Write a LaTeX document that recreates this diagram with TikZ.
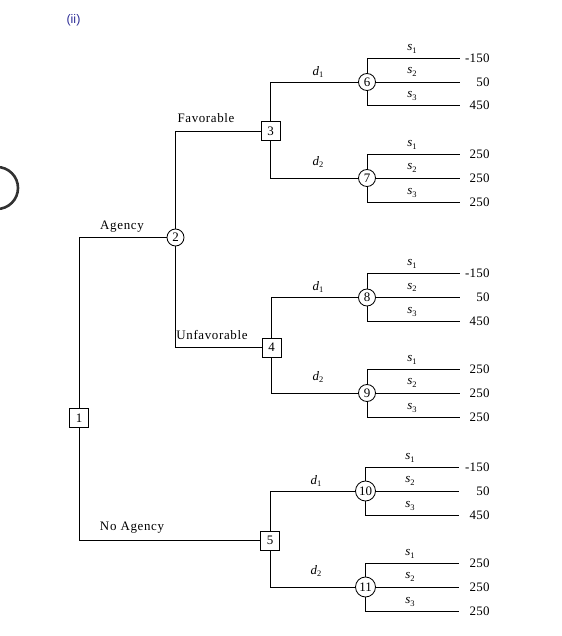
\documentclass[tikz,border=0pt]{standalone}
\usepackage{fontspec}
\setmainfont{Liberation Serif}
\newfontfamily\sansf{Liberation Sans}
\newfontfamily\spacedf[LetterSpace=5]{Liberation Serif}
\newfontfamily\valf[LetterSpace=2]{Liberation Serif}
\definecolor{iicol}{RGB}{45,45,150}
\definecolor{ringcol}{RGB}{50,50,50}
\newcommand{\lbl}[2]{\textit{#1}\raisebox{-2.5pt}{\fontsize{8.5}{8.5}\selectfont #2}}
\begin{document}
\begin{tikzpicture}[x=1bp,y=-1bp,
  line width=0.85bp,
  dec/.style={draw, rectangle, minimum size=19bp, inner sep=0pt, fill=white, font=\fontsize{13}{13}\selectfont},
  chance/.style={draw, circle, minimum size=17bp, inner sep=0pt, fill=white, font=\fontsize{13}{13}\selectfont},
  chancew/.style={chance, minimum size=20bp},
  lab/.style={inner sep=0pt, font=\spacedf\fontsize{13}{14}\selectfont},
  slab/.style={inner sep=0pt, font=\fontsize{13}{13}\selectfont},
  val/.style={anchor=east, inner sep=0pt, font=\valf\fontsize{13}{14}\selectfont}]
\useasboundingbox (0,0) rectangle (562,636);
% clipped ring at the left edge
\begin{scope}
  \clip (0,0) rectangle (562,636);
  \draw[ringcol, line width=2.6bp] (-3,188) circle (21);
\end{scope}
\node[inner sep=0pt, text=iicol, font=\sansf\fontsize{12.5}{12.5}\selectfont] (ii) at (73.5,20) {(ii)};
% decision and chance nodes
\node[dec] (n1) at (79,418) {1};
\node[chance] (n2) at (175.5,237.5) {2};
\node[dec] (n3) at (270.5,131) {3};
\node[dec] (n4) at (271.5,347.5) {4};
\node[dec] (n5) at (270,540.5) {5};
\node[chance] (n6) at (367,82) {6};
\node[chance] (n7) at (367,178) {7};
\node[chance] (n8) at (367,297.5) {8};
\node[chance] (n9) at (367,393) {9};
\node[chancew] (n10) at (365.5,491) {10};
\node[chancew] (n11) at (365.5,587) {11};
% first level
\draw (n1) |- (n2);
\draw (n1) |- (n5);
\draw (n2) |- (n3);
\draw (n2) |- (n4);
\node[lab] (tAg) at (122,227) {Agency};
\node[lab] (tNo) at (132,528) {N\kern1pt o Agency};
\node[lab] (tFa) at (206,118.5) {Favorable};
\node[lab] (tUn) at (212,335) {Unfavorable};
% decisions
\draw (n3) |- (n6);
\draw (n3) |- (n7);
\draw (n4) |- (n8);
\draw (n4) |- (n9);
\draw (n5) |- (n10);
\draw (n5) |- (n11);
\node[slab] (d6) at (318,72) {\lbl{d}{1}};
\node[slab] (d7) at (318,162) {\lbl{d}{2}};
\node[slab] (d8) at (318,287) {\lbl{d}{1}};
\node[slab] (d9) at (318,377) {\lbl{d}{2}};
\node[slab] (d10) at (316,481) {\lbl{d}{1}};
\node[slab] (d11) at (316,571) {\lbl{d}{2}};
% outcome ends
\foreach \n/\yc/\ya/\yb/\va/\vb/\vc/\xs/\xe in {
  n6/82/58/105/-150/50/450/412/460,
  n7/178/154/202/250/250/250/412/460,
  n8/297.5/273/321/-150/50/450/412/460,
  n9/393/369/417/250/250/250/412/460,
  n10/491/467/515/-150/50/450/410/459,
  n11/587/563/611/250/250/250/410/459}{
  \coordinate (\n a) at (\xe,\ya);
  \coordinate (\n b) at (\xe,\yc);
  \coordinate (\n c) at (\xe,\yb);
  \draw (\n) |- (\n a);
  \draw (\n) -- (\n b);
  \draw (\n) |- (\n c);
  \node[slab] (\n sa) at (\xs,\ya-9) {\lbl{s}{1}};
  \node[slab] (\n sb) at (\xs,\yc-10) {\lbl{s}{2}};
  \node[slab] (\n sc) at (\xs,\yb-9) {\lbl{s}{3}};
  \node[val] (\n va) at (490,\ya) {\va};
  \node[val] (\n vb) at (490,\yc) {\vb};
  \node[val] (\n vc) at (490,\yb) {\vc};
}
\end{tikzpicture}
\end{document}
